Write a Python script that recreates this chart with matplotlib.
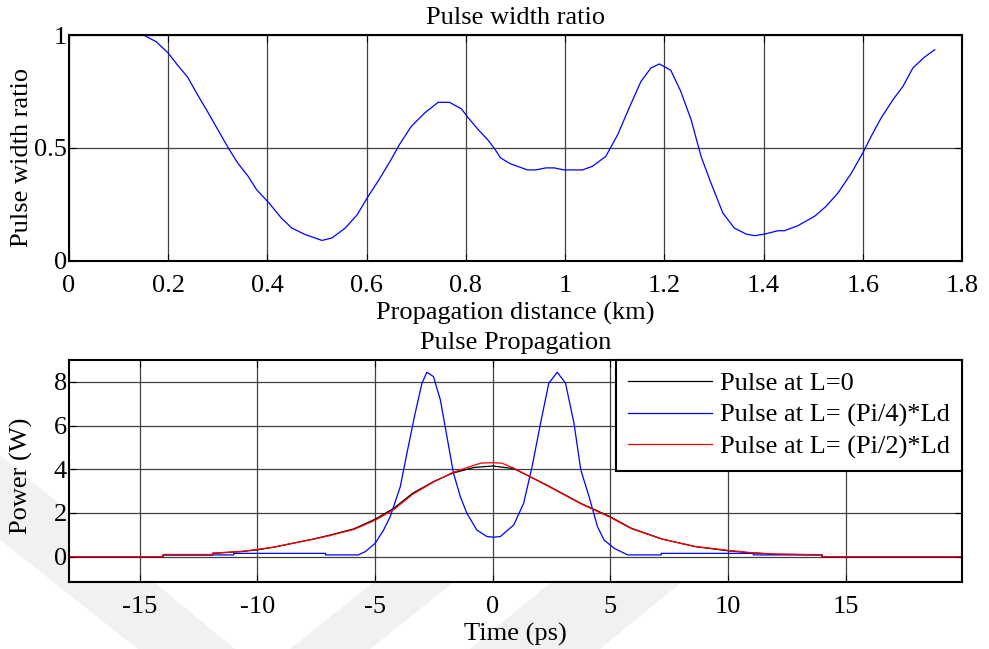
import numpy as np
import matplotlib.pyplot as plt

plt.rcParams['font.family'] = ['Liberation Serif', 'DejaVu Serif']
plt.rcParams['font.size'] = 19
plt.rcParams['axes.unicode_minus'] = False

# pulse width ratio along the fibre
dist = [0.1, 0.15, 0.176, 0.2, 0.218, 0.239, 0.259, 0.279, 0.3, 0.323, 0.34, 0.361,
        0.378, 0.403, 0.428, 0.449, 0.476, 0.51, 0.53, 0.557, 0.581, 0.603, 0.625,
        0.649, 0.666, 0.69, 0.717, 0.744, 0.767, 0.791, 0.805, 0.825, 0.845, 0.859,
        0.870, 0.889, 0.904, 0.924, 0.941, 0.961, 0.978, 0.998, 1.035, 1.055, 1.082,
        1.106, 1.129, 1.153, 1.173, 1.19, 1.213, 1.233, 1.254, 1.274, 1.294, 1.318,
        1.341, 1.365, 1.382, 1.402, 1.429, 1.442, 1.469, 1.503, 1.526, 1.55, 1.577,
        1.6, 1.617, 1.637, 1.661, 1.681, 1.701, 1.722, 1.745]
ratio = [1.0, 1.0, 0.970, 0.920, 0.869, 0.814, 0.736, 0.662, 0.581, 0.493, 0.434, 0.375,
         0.316, 0.257, 0.190, 0.146, 0.117, 0.091, 0.102, 0.146, 0.205, 0.286, 0.360,
         0.448, 0.515, 0.596, 0.655, 0.702, 0.702, 0.673, 0.633, 0.581, 0.534, 0.493,
         0.456, 0.431, 0.419, 0.403, 0.403, 0.412, 0.412, 0.403, 0.403, 0.419, 0.463,
         0.559, 0.677, 0.795, 0.854, 0.872, 0.844, 0.751, 0.625, 0.463, 0.345, 0.212,
         0.146, 0.119, 0.112, 0.119, 0.134, 0.134, 0.156, 0.198, 0.242, 0.301, 0.389,
         0.478, 0.552, 0.633, 0.714, 0.773, 0.854, 0.898, 0.935]

# input pulse (L=0)
t0 = [-18, -14.0, -14.0, -11.9, -11.9, -10.7, -10.0, -9.3, -8.5, -7.6, -6.9, -5.9,
      -5.0, -4.2, -3.4, -2.5, -1.7, -0.8, 0.0, 0.9, 2.3, 3.75, 5.0, 5.9, 7.2, 8.6,
      10.0, 10.9, 12.0, 14.0, 14.0, 20]
p0 = [0, 0, 0.08, 0.08, 0.15, 0.23, 0.31, 0.43, 0.61, 0.81, 0.99, 1.27,
      1.71, 2.21, 2.90, 3.44, 3.82, 4.08, 4.15, 4.03, 3.28, 2.44, 1.83, 1.30, 0.81, 0.46,
      0.27, 0.18, 0.11, 0.08, 0, 0]

# L = (pi/4)*Ld
t1 = [-18, -14.0, -14.0, -11.0, -11.0, -7.1, -7.1, -5.7, -5.41, -4.99, -4.63, -4.35,
      -3.92, -3.64, -3.29, -3.0, -2.79, -2.51, -2.22, -1.94, -1.66, -1.37, -1.09,
      -0.67, -0.24, 0.04, 0.33, 0.9, 1.32, 1.68, 2.04, 2.39, 2.75, 3.10, 3.46, 3.75,
      4.10, 4.46, 4.74, 5.17, 5.74, 7.17, 7.17, 11.08, 11.08, 14.0, 14.0, 20]
p1 = [0, 0, 0.08, 0.08, 0.15, 0.15, 0.08, 0.08, 0.23, 0.61, 1.22, 1.83,
      3.21, 4.73, 6.56, 7.94, 8.44, 8.24, 7.18, 5.50, 3.82, 2.75, 1.98,
      1.22, 0.92, 0.89, 0.92, 1.45, 2.44, 4.12, 6.11, 7.94, 8.44, 7.94, 6.11, 3.97,
      2.75, 1.37, 0.76, 0.38, 0.08, 0.08, 0.15, 0.15, 0.08, 0.08, 0, 0]

# L = (pi/2)*Ld
t2 = [-18, -14.0, -14.0, -11.9, -11.9, -10.7, -10.0, -9.3, -8.5, -7.6, -6.9, -5.9,
      -5.0, -4.2, -3.4, -2.5, -1.7, -0.8, -0.5, 0.0, 0.4, 0.9, 2.3, 3.75, 5.0, 5.9,
      7.2, 8.6, 10.0, 10.9, 12.0, 14.0, 14.0, 20]
p2 = [0, 0, 0.10, 0.10, 0.16, 0.24, 0.33, 0.44, 0.61, 0.80, 0.97, 1.24,
      1.66, 2.15, 2.85, 3.42, 3.85, 4.18, 4.28, 4.30, 4.28, 4.05, 3.26, 2.42, 1.80, 1.28,
      0.80, 0.47, 0.29, 0.19, 0.12, 0.09, 0, 0]

W, H = 989, 649
fig = plt.figure(figsize=(W / 100, H / 100), dpi=100)
ax1 = fig.add_axes([69 / W, 1 - 261 / H, 893 / W, 226 / H])
ax2 = fig.add_axes([69 / W, 1 - 582 / H, 893 / W, 222 / H])

# faint diagonal bands in the page background
bands = [[(0, 455), (0, 540), (138, 649), (235, 649)],
         [(290, 649), (370, 649), (500, 545), (420, 545)],
         [(470, 649), (600, 649), (690, 575), (560, 575)]]
for b in bands:
    fig.patches.append(plt.Polygon([(x / W, 1 - y / H) for x, y in b], closed=True,
                                   transform=fig.transFigure, facecolor='#f1f1f1',
                                   edgecolor='none', zorder=-5))

grid_kw = dict(color='0.25', linewidth=0.9)

ax1.plot(dist, ratio, color='#0000ff', lw=0.9)
ax1.set_xlim(0, 1.8)
ax1.set_ylim(0, 1)
ax1.set_xticks(np.arange(0, 1.81, 0.2))
ax1.set_xticklabels(['0', '0.2', '0.4', '0.6', '0.8', '1', '1.2', '1.4', '1.6', '1.8'])
ax1.set_yticks([0, 0.5, 1])
ax1.set_yticklabels(['0', '0.5', '1'])
ax1.grid(True, **grid_kw)
ax1.set_title('Pulse width ratio', fontsize=19, pad=8)
ax1.set_xlabel('Propagation distance (km)', labelpad=3.6)
ax1.set_ylabel('Pulse width ratio')
ax1.yaxis.set_label_coords(-0.040, 0.46)

ax2.plot(t0, p0, color='black', lw=0.9, label='Pulse at L=0')
ax2.plot(t1, p1, color='#0000ff', lw=0.9, label='Pulse at L= (Pi/4)*Ld')
ax2.plot(t2, p2, color='red', lw=0.9, label='Pulse at L= (Pi/2)*Ld')
ax2.set_xlim(-18, 19.95)
ax2.set_ylim(-1.16, 9.0)
ax2.set_xticks([-15, -10, -5, 0, 5, 10, 15])
ax2.set_yticks([0, 2, 4, 6, 8])
ax2.grid(True, **grid_kw)
ax2.set_title('Pulse Propagation', fontsize=19, pad=8)
ax2.set_xlabel('Time (ps)', labelpad=3.6)
ax2.set_ylabel('Power (W)')
ax2.yaxis.set_label_coords(-0.040, 0.48)
leg = ax2.legend(loc='upper right', borderaxespad=0, fancybox=False,
                 framealpha=1, edgecolor='black', handlelength=3.2,
                 handletextpad=0.3, labelspacing=0.3, borderpad=0.45)
leg.get_frame().set_linewidth(1.5)

for ax in (ax1, ax2):
    ax.tick_params(direction='in', top=True, right=True, length=5, width=0.8)
    ax.tick_params(axis='x', pad=10)
    ax.tick_params(axis='y', pad=1.5)
    for s in ax.spines.values():
        s.set_linewidth(1.5)
    ax.set_axisbelow(True)

fig.savefig('out.png', dpi=100)
